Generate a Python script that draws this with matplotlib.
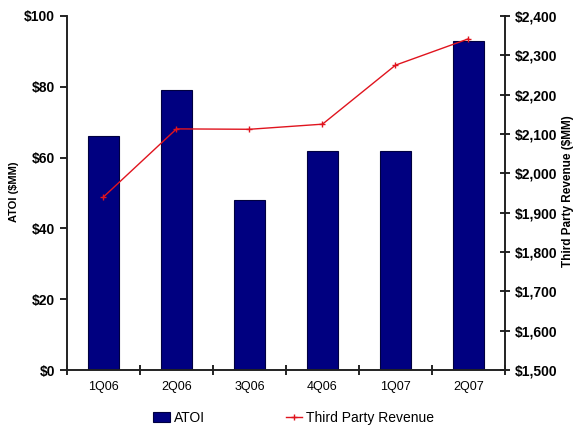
import matplotlib.pyplot as plt

plt.rcParams['font.family'] = ['Liberation Sans', 'DejaVu Sans']

quarters = ['1Q06', '2Q06', '3Q06', '4Q06', '1Q07', '2Q07']
atoi = [66, 79, 48, 62, 62, 93]
revenue = [1940, 2113, 2112, 2125, 2275, 2342]

left_ticks = [0, 20, 40, 60, 80, 100]
right_ticks = list(range(1500, 2401, 100))

fig = plt.figure(figsize=(5.76, 4.3), dpi=100)
ax = fig.add_axes([0.1163, 0.1395, 0.7604, 0.8233])
ax2 = ax.twinx()

x = range(len(quarters))
bars = ax.bar(x, atoi, width=0.43, color='#000080', edgecolor='#000040',
              linewidth=0.8, label='ATOI', zorder=2)
line, = ax2.plot(x, revenue, color='#e0141e', linewidth=1.0, marker='+',
                 markersize=4, markeredgewidth=1.0, label='Third Party Revenue')

ax.set_xlim(-0.5, 5.5)
ax.set_ylim(0, 100)
ax2.set_ylim(1500, 2400)

ax.set_yticks(left_ticks)
ax.set_yticklabels(['$' + str(v) for v in left_ticks], fontsize=10, fontweight='bold')
ax2.set_yticks(right_ticks)
ax2.set_yticklabels(['${:,}'.format(v) for v in right_ticks], fontsize=10, fontweight='bold')

ax.set_xticks(list(x))
ax.set_xticklabels(quarters, fontsize=9)
ax.set_xticks([i - 0.5 for i in range(len(quarters) + 1)], minor=True)
ax.tick_params(axis='x', which='major', length=0, pad=8)
ax.tick_params(axis='x', which='minor', direction='inout', length=7, width=1.2)
ax.tick_params(axis='y', direction='out', length=5, width=1.2)
ax2.tick_params(axis='y', direction='inout', length=7, width=1.2)

for a in (ax, ax2):
    a.spines['top'].set_visible(False)
    for s in ('left', 'right', 'bottom'):
        a.spines[s].set_linewidth(1.2)
        a.spines[s].set_color('#222222')

fig.text(0.024, 0.555, 'ATOI ($MM)', rotation=90, fontsize=8, fontweight='bold',
         ha='center', va='center')
fig.text(0.986, 0.555, 'Third Party Revenue ($MM)', rotation=90, fontsize=8.5,
         fontweight='bold', ha='center', va='center')

fig.legend([bars, line], ['ATOI', 'Third Party Revenue'], loc='center',
           bbox_to_anchor=(0.51, 0.028), ncol=2, frameon=False, fontsize=10,
           columnspacing=5.8, handlelength=1.2, handletextpad=0.3)

fig.savefig('out.png', dpi=100)
